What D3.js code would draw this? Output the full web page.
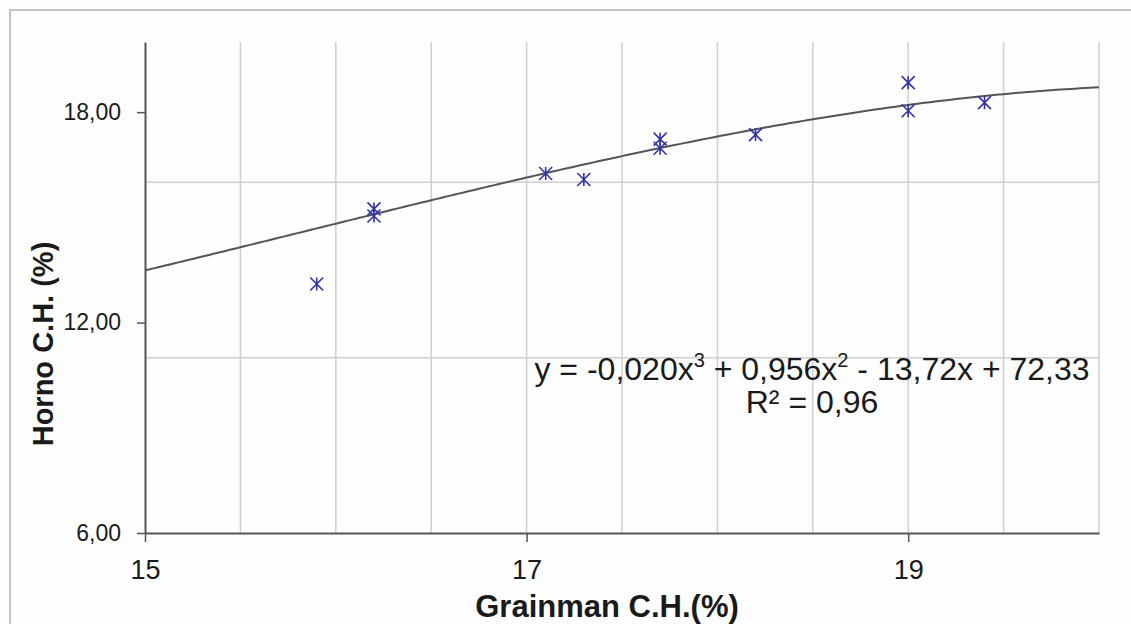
<!DOCTYPE html>
<html>
<head>
<meta charset="utf-8">
<script src="https://cdn.jsdelivr.net/npm/d3@7"></script>
<style>
  html, body { margin: 0; padding: 0; background: #ffffff; }
  svg { display: block; }
  text { font-family: "Liberation Sans", Arial, sans-serif; fill: #1a1a1a; }
</style>
</head>
<body>
<svg id="chart" width="1131" height="624"></svg>
<script>
// ---- data ----
const grainman = [15.9, 16.2, 16.2, 17.1, 17.3, 17.7, 17.7, 18.2, 19.0, 19.0, 19.4];
const horno    = [13.1, 15.24, 15.04, 16.25, 16.08, 17.23, 16.97, 17.36, 18.84, 18.04, 18.27];
// trendline as drawn in the picture (read at every half unit)
const trendX = [15, 15.5, 16, 16.5, 17, 17.5, 18, 18.5, 19, 19.5, 20];
const trendY = [13.50, 14.12, 14.83, 15.49, 16.16, 16.71, 17.32, 17.80, 18.20, 18.51, 18.71];
const xTickValues = [15, 17, 19];
const yTickValues = [6, 12, 18];
const xGridValues = [15.5, 16, 16.5, 17, 17.5, 18, 18.5, 19, 19.5, 20];
const yGridValues = [11, 16];
const equationParts = [
  ["y = -0,020x", false], ["3", true], [" + 0,956x", false], ["2", true], [" - 13,72x + 72,33", false]
];
const r2Text = "R² = 0,96";
const xTitle = "Grainman C.H.(%)";
const yTitle = "Horno C.H. (%)";

// ---- cubic smoothing of the trendline readings ----
function polyFit(xs, ys, deg) {
  const m = d3.mean(xs);
  const n = deg + 1;
  const A = Array.from({length: n}, () => new Array(n + 1).fill(0));
  xs.forEach((xv, k) => {
    const t = xv - m;
    for (let i = 0; i < n; i++) {
      for (let j = 0; j < n; j++) A[i][j] += Math.pow(t, i + j);
      A[i][n] += ys[k] * Math.pow(t, i);
    }
  });
  for (let c = 0; c < n; c++) {
    let p = c;
    for (let r = c + 1; r < n; r++) if (Math.abs(A[r][c]) > Math.abs(A[p][c])) p = r;
    [A[c], A[p]] = [A[p], A[c]];
    for (let r = 0; r < n; r++) {
      if (r === c) continue;
      const f = A[r][c] / A[c][c];
      for (let k = c; k <= n; k++) A[r][k] -= f * A[c][k];
    }
  }
  const coef = A.map((row, i) => row[n] / row[i]);
  return xv => coef.reduce((s, cc, i) => s + cc * Math.pow(xv - m, i), 0);
}
const trend = polyFit(trendX, trendY, 3);

// ---- drawing ----
const svg = d3.select("#chart");
svg.append("rect").attr("x", 0).attr("y", 0).attr("width", 1131).attr("height", 624).attr("fill", "#fdfdfd");
// outer frame
svg.append("rect").attr("x", 10).attr("y", 10).attr("width", 1200).attr("height", 700)
  .attr("fill", "none").attr("stroke", "#b0b0b0").attr("stroke-width", 1.5);

const x = d3.scaleLinear().domain([15, 20]).range([145, 1099]);
const y = d3.scaleLinear().domain([6, 20]).range([533, 42]);

// gridlines
svg.append("g").selectAll("line").data(xGridValues).join("line")
  .attr("x1", d => x(d)).attr("x2", d => x(d))
  .attr("y1", y(20)).attr("y2", y(6))
  .attr("stroke", "#cfcfcf").attr("stroke-width", 1.5);
svg.append("g").selectAll("line").data(yGridValues).join("line")
  .attr("x1", x(15)).attr("x2", x(20))
  .attr("y1", d => y(d)).attr("y2", d => y(d))
  .attr("stroke", "#cfcfcf").attr("stroke-width", 1.5);

// axes
const xAxis = d3.axisBottom(x).tickValues(xTickValues).tickSize(9).tickPadding(18).tickSizeOuter(0)
  .tickFormat(d3.format("d"));
const gx = svg.append("g").attr("transform", `translate(0,${y(6)})`).call(xAxis);
gx.select(".domain").attr("stroke", "#555").attr("stroke-width", 2);
gx.selectAll(".tick line").attr("stroke", "#555").attr("stroke-width", 1.5);
gx.selectAll(".tick text").attr("font-size", 27).attr("fill", "#1a1a1a")
  .attr("font-family", "Liberation Sans, Arial, sans-serif");

const yAxis = d3.axisLeft(y).tickValues(yTickValues).tickSize(8).tickPadding(16).tickSizeOuter(0)
  .tickFormat(d => d3.format(".2f")(d).replace(".", ","));
const gy = svg.append("g").attr("transform", `translate(${x(15)},0)`).call(yAxis);
gy.select(".domain").attr("stroke", "#555").attr("stroke-width", 2);
gy.selectAll(".tick line").attr("stroke", "#555").attr("stroke-width", 1.5);
gy.selectAll(".tick text").attr("font-size", 23).attr("fill", "#1a1a1a")
  .attr("font-family", "Liberation Sans, Arial, sans-serif");

// trendline
const trendXs = d3.range(0, 201).map(i => 15 + i * 5 / 200);
svg.append("path").datum(trendXs)
  .attr("d", d3.line().x(d => x(d)).y(d => y(trend(d))))
  .attr("fill", "none").attr("stroke", "#555").attr("stroke-width", 2);

// star markers
const pts = grainman.map((g, i) => [g, horno[i]]);
const s = 6.5;
const mk = svg.append("g").selectAll("g").data(pts).join("g")
  .attr("transform", d => `translate(${x(d[0])},${y(d[1])})`);
mk.append("path")
  .attr("d", `M${-s},${-s}L${s},${s}M${s},${-s}L${-s},${s}M0,${-s}L0,${s}`)
  .attr("stroke", "#3333a6").attr("stroke-width", 1.6).attr("fill", "none");

// equation
const eq = svg.append("text").attr("x", 812).attr("y", 380).attr("text-anchor", "middle")
  .attr("font-size", 32);
equationParts.forEach(([t, sup], i) => {
  const ts = eq.append("tspan").text(t);
  if (sup) ts.attr("font-size", 20).attr("dy", -13);
  else if (i > 0 && equationParts[i - 1][1]) ts.attr("dy", 13);
});
svg.append("text").attr("x", 812).attr("y", 413).attr("text-anchor", "middle")
  .attr("font-size", 32).text(r2Text);

// axis titles
svg.append("text").attr("x", 607).attr("y", 617).attr("text-anchor", "middle")
  .attr("font-size", 31).attr("font-weight", "bold").text(xTitle);
svg.append("text").attr("transform", "translate(53,344) rotate(-90)").attr("text-anchor", "middle")
  .attr("font-size", 29).attr("font-weight", "bold").text(yTitle);
</script>
</body>
</html>
